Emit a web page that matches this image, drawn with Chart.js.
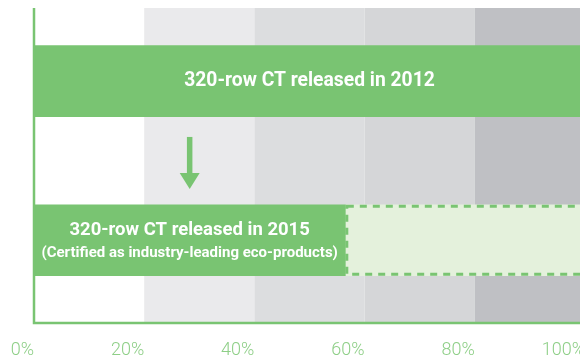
<!DOCTYPE html>
<html>
<head>
<meta charset="utf-8">
<title>320-row CT</title>
<script src="https://cdn.jsdelivr.net/npm/chart.js@4.4.1/dist/chart.umd.min.js"></script>
<style>
    html, body { margin: 0; padding: 0; background: #fff; overflow: hidden; }
    #wrap { width: 586px; height: 362px; }
</style>
</head>
<body>
<div id="wrap"><canvas id="ctChart"></canvas></div>
<script>
// --- Data ---
const releaseYears = ['2012', '2015'];
const rowPositions = [0, 1];
const releasedShare = [100, 56.5];
const remainingShare = [null, 43.5];
const barTitles = ['320-row CT released in 2012', '320-row CT released in 2015'];
const barNotes = ['', '(Certified as industry-leading eco-products)'];
const tickLabels = ['0%', '20%', '40%', '60%', '80%', '100%'];
const bandColors = ['#ffffff', '#eaeaec', '#dcdddf', '#d5d6d8', '#bfc0c4'];

// --- Colours ---
const GREEN = '#79c472';
const PALE_GREEN = '#e4f1dc';
const TICK_GREEN = '#8ecf87';

// grey bands behind the bars, one per 20% step
const bandPlugin = {
    id: 'bands',
    beforeDraw(chart) {
        const { ctx, chartArea, scales } = chart;
        ctx.save();
        bandColors.forEach((color, i) => {
            const x0 = scales.x.getPixelForValue(i * 20);
            const x1 = scales.x.getPixelForValue((i + 1) * 20);
            ctx.fillStyle = color;
            ctx.fillRect(x0, chartArea.top, x1 - x0, chartArea.bottom - chartArea.top);
        });
        ctx.restore();
    }
};

// dashed outline, arrow, axis lines and bar captions
const overlayPlugin = {
    id: 'overlay',
    afterDatasetsDraw(chart) {
        const { ctx, chartArea, scales } = chart;
        const solid = chart.getDatasetMeta(0).data;
        const rest = chart.getDatasetMeta(1).data;
        ctx.save();

        // dashed border round the not-yet-reached part
        rest.forEach((el, i) => {
            if (remainingShare[i] == null) return;
            const lw = 3;
            const left = Math.min(el.base, el.x) + lw / 2;
            const right = Math.max(el.base, el.x) + 20;
            const top = el.y - el.height / 2 + lw / 2;
            const bottom = el.y + el.height / 2 - lw / 2;
            ctx.strokeStyle = GREEN;
            ctx.lineWidth = lw;
            ctx.setLineDash([7, 6]);
            ctx.strokeRect(left, top, right - left, bottom - top);
            ctx.setLineDash([]);
        });

        // down arrow between the two bars
        const upper = solid[0], lower = solid[1];
        const gapTop = upper.y + upper.height / 2;
        const gapBottom = lower.y - lower.height / 2;
        const gap = gapBottom - gapTop;
        const ax = scales.x.getPixelForValue(releasedShare[1] / 2);
        const ay0 = gapTop + gap * 0.23;
        const ay1 = gapBottom - gap * 0.18;
        const headLen = 16, headHalf = 10, shaft = 5.5;
        ctx.fillStyle = GREEN;
        ctx.fillRect(ax - shaft / 2, ay0, shaft, ay1 - ay0 - headLen + 1);
        ctx.beginPath();
        ctx.moveTo(ax - headHalf, ay1 - headLen);
        ctx.lineTo(ax + headHalf, ay1 - headLen);
        ctx.lineTo(ax, ay1);
        ctx.closePath();
        ctx.fill();

        // axis lines
        ctx.strokeStyle = GREEN;
        ctx.lineWidth = 2.5;
        ctx.beginPath();
        ctx.moveTo(chartArea.left, chartArea.top);
        ctx.lineTo(chartArea.left, chartArea.bottom);
        ctx.lineTo(chartArea.right + 2, chartArea.bottom);
        ctx.stroke();

        // captions inside the solid bars
        ctx.fillStyle = '#ffffff';
        ctx.textAlign = 'center';
        ctx.textBaseline = 'middle';
        solid.forEach((el, i) => {
            const cx = (el.base + el.x) / 2;
            if (barNotes[i]) {
                ctx.font = 'bold 18.5px Roboto, "Liberation Sans", sans-serif';
                ctx.fillText(barTitles[i], cx, el.y - 10);
                ctx.font = 'bold 15px Roboto, "Liberation Sans", sans-serif';
                ctx.fillText(barNotes[i], cx, el.y + 13);
            } else {
                ctx.font = 'bold 19.3px Roboto, "Liberation Sans", sans-serif';
                ctx.fillText(barTitles[i], cx, el.y);
            }
        });
        ctx.restore();
    }
};

const ctx = document.getElementById('ctChart').getContext('2d');
new Chart(ctx, {
    type: 'bar',
    data: {
        labels: releaseYears,
        datasets: [{
            label: 'Released',
            data: rowPositions.map((p, i) => ({ y: p, x: releasedShare[i] })),
            backgroundColor: GREEN,
            borderWidth: 0,
            barThickness: 71,
            stack: 'share'
        }, {
            label: 'Remaining',
            data: rowPositions.map((p, i) => ({ y: p, x: remainingShare[i] })),
            backgroundColor: PALE_GREEN,
            borderWidth: 0,
            barThickness: 71,
            stack: 'share'
        }]
    },
    options: {
        indexAxis: 'y',
        responsive: true,
        maintainAspectRatio: false,
        animation: false,
        layout: {
            padding: { left: 34, right: 1, top: 8, bottom: 2 }
        },
        plugins: {
            legend: { display: false },
            tooltip: { enabled: false },
            title: { display: false }
        },
        scales: {
            x: {
                type: 'linear',
                stacked: true,
                min: 0,
                max: 100,
                grid: { display: false, drawTicks: false },
                border: { display: false },
                ticks: {
                    stepSize: 20,
                    align: 'end',
                    padding: 17,
                    color: TICK_GREEN,
                    font: { family: 'Roboto', weight: '300', size: 18 },
                    callback: (value) => tickLabels[value / 20]
                },
                // fixed axis band height, no extra side padding for the labels
                afterFit(scale) {
                    scale.paddingLeft = 0;
                    scale.paddingRight = 0;
                    scale.height = 37;
                }
            },
            y: {
                type: 'linear',
                display: false,
                offset: false,
                reverse: true,
                min: -0.46,
                max: 1.52
            }
        }
    },
    plugins: [bandPlugin, overlayPlugin]
});
</script>
</body>
</html>
